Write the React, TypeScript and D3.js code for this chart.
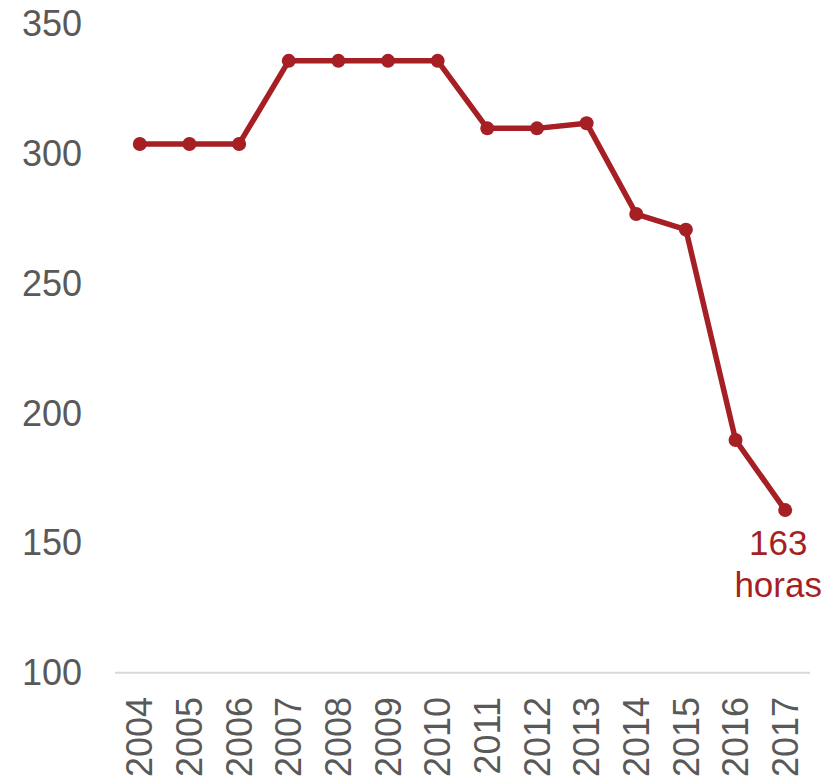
import { useMemo } from "react";
import { scaleBand, scaleLinear, line } from "d3";

const WIDTH = 829;
const HEIGHT = 781;

const years = ["2004", "2005", "2006", "2007", "2008", "2009", "2010", "2011", "2012", "2013", "2014", "2015", "2016", "2017"];
const hours = [304, 304, 304, 336, 336, 336, 336, 310, 310, 312, 277, 271, 190, 163];
const yTicks = [100, 150, 200, 250, 300, 350];
const endLabel = ["163", "horas"];

const RED = "#A51F24";
const GREY = "#595959";
const FONT = "'Liberation Sans', Arial, sans-serif";

export default function App() {
  const x = useMemo(() => scaleBand<string>().domain(years).range([115, 810]), []);
  const y = useMemo(() => scaleLinear().domain([100, 350]).range([672.7, 23.5]), []);
  const cx = (yr: string) => (x(yr) ?? 0) + x.bandwidth() / 2;

  const path = line<number>()
    .x((_, i) => cx(years[i]))
    .y((v) => y(v) + 1)(hours);

  const lastX = cx(years[years.length - 1]);
  const lastY = y(hours[hours.length - 1]) + 1;

  return (
    <svg width={WIDTH} height={HEIGHT} style={{ position: "absolute", left: 0, top: 0, background: "#fff" }} fontFamily={FONT}>
      {yTicks.map((t) => (
        <text key={t} x={82} y={y(t)} dy="0.35em" textAnchor="end" fontSize={36} fill={GREY}>
          {t}
        </text>
      ))}
      <line x1={115} x2={810} y1={y(100)} y2={y(100)} stroke="#d9d9d9" strokeWidth={2} />
      {years.map((yr) => (
        <text
          key={yr}
          transform={`translate(${cx(yr)},697) rotate(-90)`}
          dy="0.35em"
          textAnchor="end"
          fontSize={36}
          fill={GREY}
        >
          {yr}
        </text>
      ))}
      {path ? <path d={path} fill="none" stroke={RED} strokeWidth={5.5} strokeLinejoin="round" /> : null}
      {hours.map((v, i) => (
        <circle key={years[i]} cx={cx(years[i])} cy={y(v) + 1} r={7} fill={RED} />
      ))}
      <text x={lastX - 7} y={lastY + 45} textAnchor="middle" fontSize={35} fill={RED}>
        {endLabel[0]}
      </text>
      <text x={lastX - 7} y={lastY + 87} textAnchor="middle" fontSize={35} fill={RED}>
        {endLabel[1]}
      </text>
    </svg>
  );
}
